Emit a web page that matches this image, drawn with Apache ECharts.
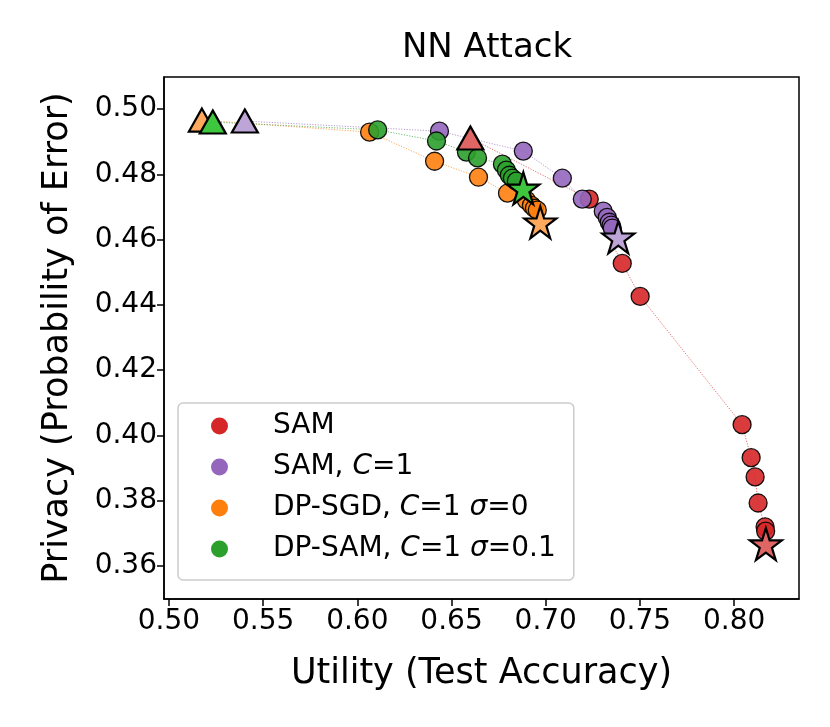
<!DOCTYPE html>
<html>
<head>
<meta charset="utf-8">
<script src="https://cdn.jsdelivr.net/npm/echarts@6/dist/echarts.min.js"></script>
<style>html,body{margin:0;padding:0;background:#fff}#c{width:830px;height:727px}</style>
</head>
<body>
<div id="c"></div>
<script>
// ---- data ----
var seriesNames = ['SAM', 'SAM, C=1', 'DP-SGD, C=1 σ=0', 'DP-SAM, C=1 σ=0.1'];
var xTicks = [0.50, 0.55, 0.60, 0.65, 0.70, 0.75, 0.80];
var yTicks = [0.36, 0.38, 0.40, 0.42, 0.44, 0.46, 0.48, 0.50];

// SAM
var samStart = [0.6600, 0.4911];
var samX = [0.7231, 0.7406, 0.7501, 0.8042, 0.8090, 0.8111, 0.8127, 0.8164, 0.8167];
var samY = [0.4724, 0.4527, 0.4426, 0.4033, 0.3932, 0.3873, 0.3793, 0.3720, 0.3707];
var samEnd = [0.8168, 0.3667];

// SAM, C=1
var samCStart = [0.5403, 0.4963];
var samCX = [0.6436, 0.6881, 0.7088, 0.7194, 0.7305, 0.7326, 0.7337, 0.7347, 0.7353];
var samCY = [0.4932, 0.4871, 0.4788, 0.4724, 0.4687, 0.4668, 0.4653, 0.4644, 0.4635];
var samCEnd = [0.7385, 0.4607];

// DP-SGD, C=1 sigma=0
var sgdStart = [0.5175, 0.4966];
var sgdX = [0.6065, 0.6410, 0.6643, 0.6797, 0.6897, 0.6924, 0.6940, 0.6955];
var sgdY = [0.4929, 0.4840, 0.4791, 0.4742, 0.4721, 0.4705, 0.4696, 0.4690];
var sgdEnd = [0.6971, 0.4653];

// DP-SAM, C=1 sigma=0.1
var dpsamStart = [0.5233, 0.4960];
var dpsamX = [0.6108, 0.6420, 0.6579, 0.6638, 0.6770, 0.6791, 0.6807, 0.6823, 0.6844];
var dpsamY = [0.4936, 0.4902, 0.4868, 0.4850, 0.4831, 0.4813, 0.4797, 0.4788, 0.4779];
var dpsamEnd = [0.6881, 0.4757];

// ---- styles ----
var FONT = 'DejaVu Sans';
var colors = ['#d62728', '#9467bd', '#ff7f0e', '#2ca02c'];
var lightColors = ['#e06666', '#bea5d7', '#ffa95f', '#3fc63f'];

function starPath() {
  var pts = [];
  for (var i = 0; i < 10; i++) {
    var r = (i % 2 === 0) ? 1 : 0.381966;
    var a = -Math.PI / 2 + i * Math.PI / 5;
    pts.push((r * Math.cos(a)).toFixed(4) + ' ' + (r * Math.sin(a)).toFixed(4));
  }
  return 'path://M' + pts.join(' L') + ' Z';
}
var STAR = starPath();

var groups = [
  {start: samStart, xs: samX, ys: samY, end: samEnd},
  {start: samCStart, xs: samCX, ys: samCY, end: samCEnd},
  {start: sgdStart, xs: sgdX, ys: sgdY, end: sgdEnd},
  {start: dpsamStart, xs: dpsamX, ys: dpsamY, end: dpsamEnd}
];

function zipXY(xs, ys) { return xs.map(function (x, i) { return [x, ys[i]]; }); }

var series = [];
// dotted connecting lines
groups.forEach(function (g, k) {
  series.push({
    type: 'line', name: 'line' + k, silent: true, showSymbol: false, symbol: 'none',
    data: [g.start].concat(zipXY(g.xs, g.ys)).concat([g.end]),
    lineStyle: {type: [1.2, 1.5], width: 0.9, color: colors[k], opacity: 0.75},
    z: 2, animation: false
  });
});
// circles
groups.forEach(function (g, k) {
  series.push({
    type: 'scatter', name: seriesNames[k], data: zipXY(g.xs, g.ys),
    symbol: 'circle', symbolSize: 18,
    itemStyle: {color: colors[k], opacity: 0.9, borderColor: '#000', borderWidth: 1.3},
    z: 3 + k, animation: false
  });
});
// start triangles
groups.forEach(function (g, k) {
  series.push({
    type: 'scatter', name: 'start' + k, data: [g.start],
    symbol: 'triangle', symbolSize: [26, 23],
    itemStyle: {color: lightColors[k], opacity: 1, borderColor: '#000', borderWidth: 2.2},
    z: 10 + k, animation: false
  });
});
// end stars
groups.forEach(function (g, k) {
  series.push({
    type: 'scatter', name: 'end' + k, data: [g.end],
    symbol: STAR, symbolSize: 32,
    itemStyle: {color: lightColors[k], opacity: 1, borderColor: '#000', borderWidth: 2.2},
    z: 20 + k, animation: false
  });
});

var legendRich = {
  n: {fontFamily: FONT, fontSize: 28, color: '#000'},
  i: {fontFamily: FONT, fontSize: 28, color: '#000', fontStyle: 'italic'}
};
function legendFmt(name) {
  var idx = seriesNames.indexOf(name);
  if (idx === 0) return '{n|SAM}';
  if (idx === 1) return '{n|SAM, }{i|C}{n|=1}';
  if (idx === 2) return '{n|DP-SGD, }{i|C}{n|=1 }{i|σ}{n|=0}';
  return '{n|DP-SAM, }{i|C}{n|=1 }{i|σ}{n|=0.1}';
}

var chart = echarts.init(document.getElementById('c'), null, {renderer: 'canvas'});
chart.setOption({
  backgroundColor: '#fff',
  animation: false,
  title: {
    text: 'NN Attack', left: 482, top: 26, textAlign: 'center',
    textStyle: {fontFamily: FONT, fontSize: 34, fontWeight: 'normal', color: '#000'}
  },
  grid: {
    left: 164, right: 31, top: 77, bottom: 128,
    show: true, borderColor: '#000', borderWidth: 1.5, backgroundColor: '#fff'
  },
  legend: {
    orient: 'vertical', left: 178, top: 403,
    data: seriesNames,
    icon: 'circle', itemWidth: 17, itemHeight: 17, itemGap: 11,
    padding: [8, 18, 16, 33],
    borderColor: '#cccccc', borderWidth: 1.5, borderRadius: 5, backgroundColor: 'rgba(255,255,255,0.8)',
    itemStyle: {borderWidth: 0, opacity: 1},
    formatter: legendFmt,
    textStyle: {fontFamily: FONT, fontSize: 28, color: '#000', lineHeight: 30, padding: [0, 0, 0, 40], rich: legendRich}
  },
  xAxis: {
    type: 'value', min: 0.4974, max: 0.8344,
    name: 'Utility (Test Accuracy)', nameLocation: 'middle', nameGap: 57,
    nameTextStyle: {fontFamily: FONT, fontSize: 35, color: '#000'},
    splitLine: {show: false},
    axisLine: {show: true, onZero: false, lineStyle: {color: '#000', width: 1.5}},
    axisTick: {show: true, inside: false, length: 7, lineStyle: {color: '#000', width: 1.5}, customValues: xTicks},
    axisLabel: {
      show: true, margin: 9, customValues: xTicks,
      fontFamily: FONT, fontSize: 28, color: '#000',
      formatter: function (v) { return v.toFixed(2); }
    }
  },
  yAxis: {
    type: 'value', min: 0.3499, max: 0.5098,
    name: 'Privacy (Probability of Error)', nameLocation: 'middle', nameGap: 89,
    nameTextStyle: {fontFamily: FONT, fontSize: 35, color: '#000'},
    splitLine: {show: false},
    axisLine: {show: true, onZero: false, lineStyle: {color: '#000', width: 1.5}},
    axisTick: {show: true, inside: false, length: 7, lineStyle: {color: '#000', width: 1.5}, customValues: yTicks},
    axisLabel: {
      show: true, margin: 7, customValues: yTicks,
      fontFamily: FONT, fontSize: 28, color: '#000',
      formatter: function (v) { return v.toFixed(2); }
    }
  },
  series: series
});
</script>
</body>
</html>
